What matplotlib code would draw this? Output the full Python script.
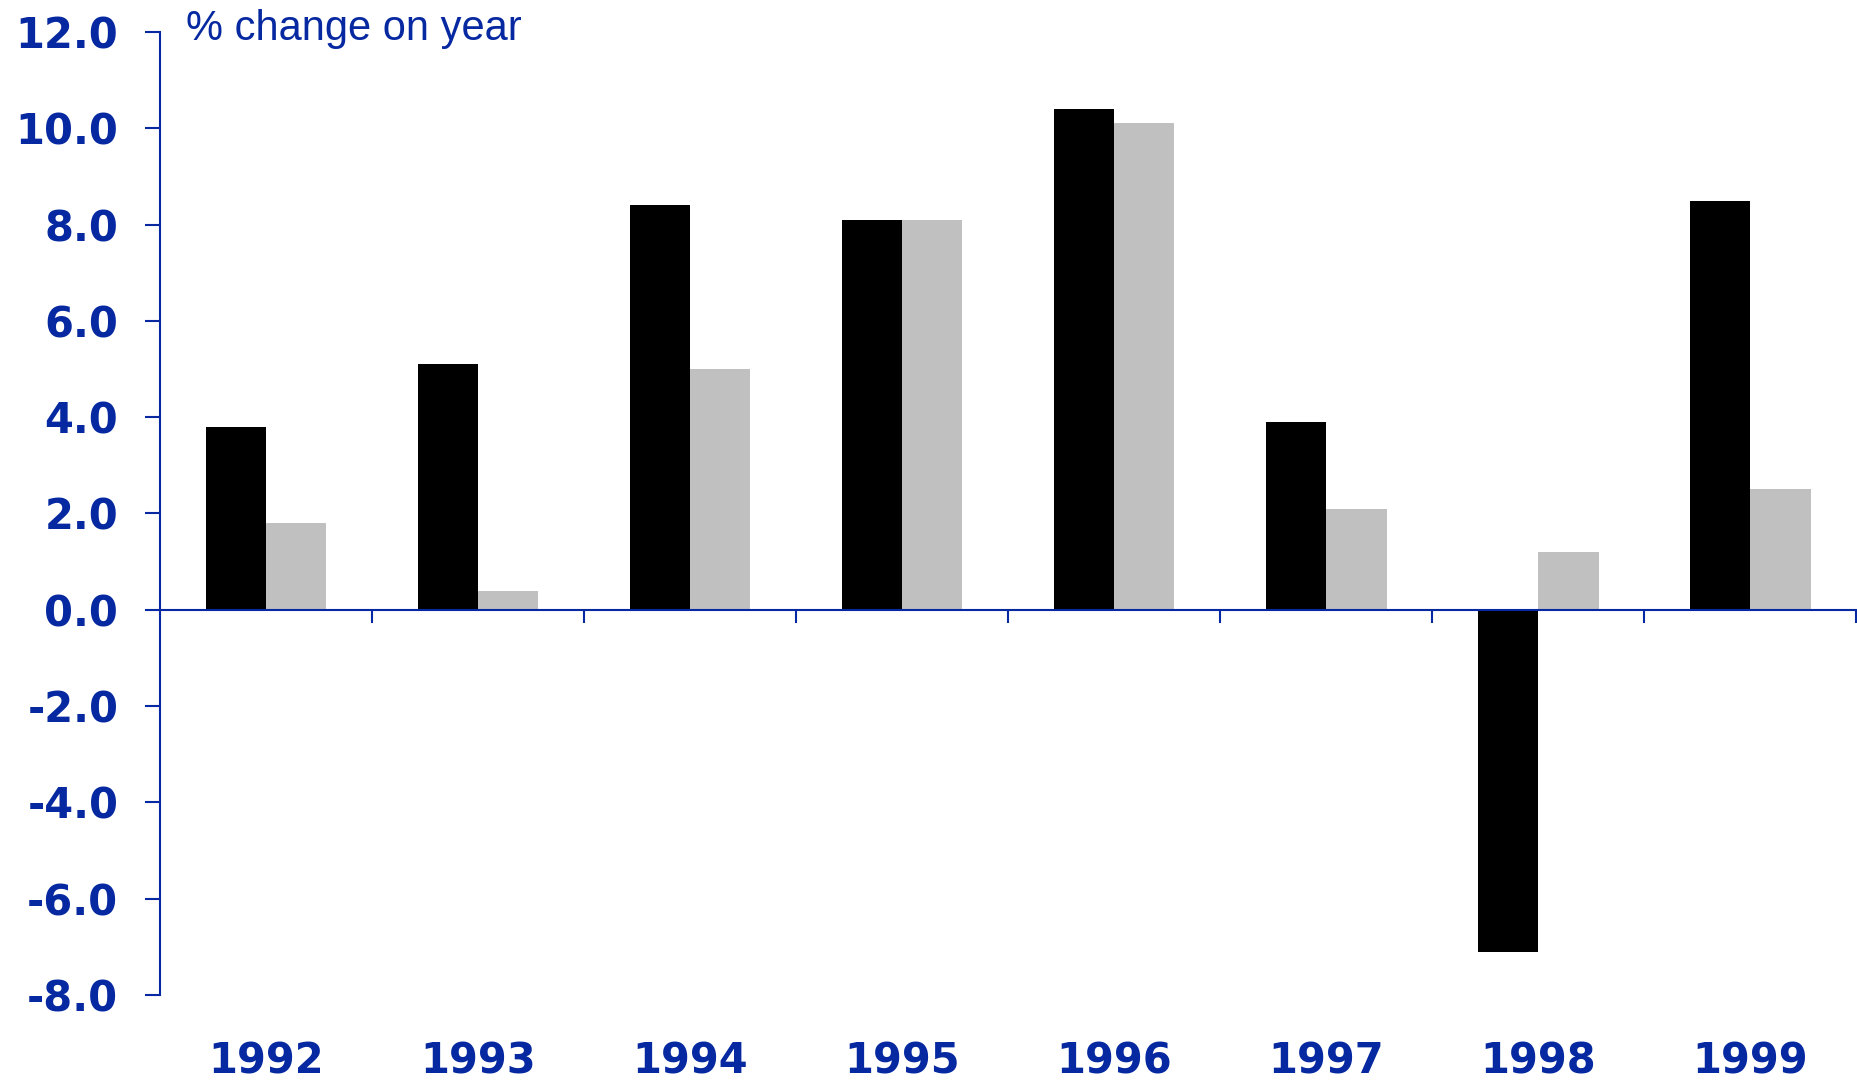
import matplotlib
matplotlib.use("Agg")
import matplotlib.pyplot as plt
import numpy as np

years = ["1992", "1993", "1994", "1995", "1996", "1997", "1998", "1999"]
series_black = [3.8, 5.1, 8.4, 8.1, 10.4, 3.9, -7.1, 8.5]
series_grey = [1.8, 0.4, 5.0, 8.1, 10.1, 2.1, 1.2, 2.5]
y_ticks = [-8.0, -6.0, -4.0, -2.0, 0.0, 2.0, 4.0, 6.0, 8.0, 10.0, 12.0]

navy = "#0628a0"
bar_w = 0.285

fig = plt.figure(figsize=(18.58, 10.88), dpi=100)
ax = fig.add_axes([0.0861, 0.0855, 0.9129, 0.8851])

x = np.arange(len(years))
ax.bar(x - bar_w / 2, series_black, bar_w, color="black", zorder=2)
ax.bar(x + bar_w / 2, series_grey, bar_w, color="#c0c0c0", zorder=2)

ax.set_xlim(-0.5, len(years) - 0.5)
ax.set_ylim(-8, 12)

# spines: left axis + zero line
for side in ["top", "right"]:
    ax.spines[side].set_visible(False)
ax.spines["bottom"].set_position(("data", 0))
ax.spines["bottom"].set_zorder(3)
for side in ["left", "bottom"]:
    ax.spines[side].set_color(navy)
    ax.spines[side].set_linewidth(1.5)

# y ticks
ax.set_yticks(y_ticks)
ax.set_yticklabels([f"{v:.1f}" for v in y_ticks])
ax.tick_params(axis="y", direction="out", length=11, width=1.5, color=navy,
               labelcolor=navy, labelsize=30, pad=19)
for lbl in ax.get_yticklabels():
    lbl.set_fontweight("bold")

# x ticks: marks at category boundaries, labels at centers
ax.set_xticks(np.arange(0.5, len(years), 1.0))
ax.set_xticklabels([])
ax.tick_params(axis="x", which="major", direction="out", length=9.5, width=1.5, color=navy)
ax.set_xticks(x, minor=True)
ax.set_xticklabels(years, minor=True)
ax.tick_params(axis="x", which="minor", length=0, labelcolor=navy, labelsize=30, pad=310)
for lbl in ax.get_xticklabels(minor=True):
    lbl.set_fontweight("bold")

fig.text(186 / 1858, 1 - 29 / 1088, "% change on year", color=navy,
         fontsize=30, family="Liberation Sans", ha="left", va="center")

fig.savefig("out.png", dpi=100, facecolor="white")
